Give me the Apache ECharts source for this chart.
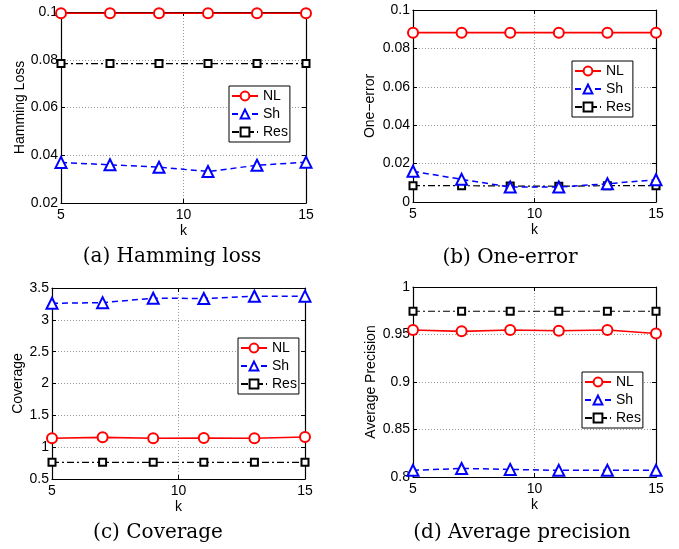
<!DOCTYPE html>
<html>
<head>
<meta charset="utf-8">
<script src="https://cdn.jsdelivr.net/npm/echarts@6/dist/echarts.min.js"></script>
<style>
  html, body { margin: 0; padding: 0; background: #fff; }
  #main { width: 679px; height: 549px; }
</style>
</head>
<body>
<div id="main"></div>
<script>
// k values on the x axis
const kValues = [5, 7, 9, 11, 13, 15];
const seriesNames = ['NL', 'Sh', 'Res'];

// (a) Hamming loss
const hammingNL = [0.0995, 0.0995, 0.0995, 0.0995, 0.0995, 0.0995];
const hammingSh = [0.037, 0.036, 0.035, 0.0332, 0.0358, 0.0371];
const hammingRes = [0.0784, 0.0784, 0.0784, 0.0784, 0.0784, 0.0784];

// (b) One-error
const oneErrNL = [0.0882, 0.0882, 0.0882, 0.0882, 0.0882, 0.0882];
const oneErrSh = [0.016, 0.0118, 0.0078, 0.0078, 0.0095, 0.0116];
const oneErrRes = [0.0085, 0.0085, 0.0083, 0.0082, 0.0085, 0.0085];

// (c) Coverage
const coverageNL = [1.14, 1.154, 1.14, 1.144, 1.14, 1.16];
const coverageSh = [3.26, 3.27, 3.34, 3.335, 3.37, 3.372];
const coverageRes = [0.762, 0.762, 0.762, 0.762, 0.762, 0.762];

// (d) Average precision
const avgPrecNL = [0.9547, 0.9533, 0.9547, 0.954, 0.9547, 0.951];
const avgPrecSh = [0.807, 0.809, 0.808, 0.807, 0.807, 0.807];
const avgPrecRes = [0.9745, 0.9745, 0.9745, 0.9745, 0.9745, 0.9745];

const FONT = 'Liberation Sans';

const panels = [
  { grid: { left: 61, top: 12, width: 245, height: 191 }, yMin: 0.02, yMax: 0.1, yStep: 0.02,
    yName: 'Hamming Loss', nameGap: 34, data: [hammingNL, hammingSh, hammingRes],
    legend: { left: 229, top: 86 }, caption: '(a) Hamming loss', cap: [172, 257] },
  { grid: { left: 413, top: 10, width: 243, height: 192 }, yMin: 0, yMax: 0.1, yStep: 0.02,
    yName: 'One\u2212error', nameGap: 36, data: [oneErrNL, oneErrSh, oneErrRes],
    legend: { left: 572, top: 61 }, caption: '(b) One-error', cap: [510, 258] },
  { grid: { left: 52, top: 288, width: 253, height: 191 }, yMin: 0.5, yMax: 3.5, yStep: 0.5,
    yName: 'Coverage', nameGap: 26, data: [coverageNL, coverageSh, coverageRes],
    legend: { left: 238, top: 338 }, caption: '(c) Coverage', cap: [158, 533] },
  { grid: { left: 413, top: 287, width: 243, height: 190 }, yMin: 0.8, yMax: 1, yStep: 0.05,
    yName: 'Average Precision', nameGap: 35, data: [avgPrecNL, avgPrecSh, avgPrecRes],
    legend: { left: 582, top: 372 }, caption: '(d) Average precision', cap: [522, 533] }
];

const styles = [
  { symbol: 'emptyCircle', symbolSize: 10, color: '#ff0000', type: 'solid', width: 1.6 },
  { symbol: 'emptyTriangle', symbolSize: 11, color: '#0000ff', type: [6, 4], width: 1.5 },
  { symbol: 'emptyRect', symbolSize: 7, color: '#000000', type: [7, 3, 2, 3], width: 1.2 }
];

const axisLine = { show: true, onZero: false, lineStyle: { color: '#000', width: 1.2 } };
const tick = { show: true, inside: true, length: 4, lineStyle: { color: '#000' } };
const gridLine = { show: true, lineStyle: { color: '#999', type: [1, 2], width: 1 } };

const grids = [], xAxes = [], yAxes = [], series = [], legends = [], graphics = [];

panels.forEach((p, i) => {
  grids.push(Object.assign({ containLabel: false }, p.grid));
  xAxes.push({
    type: 'value', gridIndex: i, min: 5, max: 15, interval: 5,
    name: 'k', nameLocation: 'middle', nameGap: 21,
    nameTextStyle: { fontFamily: FONT, fontSize: 14, color: '#000' },
    axisLine, axisTick: tick,
    axisLabel: { margin: 5, fontFamily: FONT, fontSize: 14, color: '#000' },
    splitLine: gridLine
  });
  yAxes.push({
    type: 'value', gridIndex: i, min: p.yMin, max: p.yMax, interval: p.yStep,
    name: p.yName, nameLocation: 'middle', nameGap: p.nameGap,
    nameTextStyle: { fontFamily: FONT, fontSize: 14, color: '#000' },
    axisLine, axisTick: tick,
    axisLabel: { margin: 3, fontFamily: FONT, fontSize: 14, color: '#000' },
    splitLine: gridLine
  });
  p.data.forEach((vals, j) => {
    const s = styles[j];
    series.push({
      name: seriesNames[j], type: 'line', xAxisIndex: i, yAxisIndex: i,
      data: kValues.map((k, n) => [k, vals[n]]),
      symbol: s.symbol, symbolSize: s.symbolSize, showAllSymbol: true,
      itemStyle: { color: s.color, borderWidth: 1.5 },
      lineStyle: { color: s.color, type: s.type, width: s.width },
      z: 3 - j, animation: false
    });
  });
  legends.push({
    left: p.legend.left, top: p.legend.top, orient: 'vertical',
    data: seriesNames, itemWidth: 26, itemHeight: 11, itemGap: 4,
    padding: [3, 2, 3, 2], borderColor: '#000', borderWidth: 1, backgroundColor: '#fff',
    textStyle: { fontFamily: FONT, fontSize: 14, color: '#000' },
    selectedMode: false
  });
  graphics.push({
    type: 'text', x: p.cap[0], y: p.cap[1],
    style: { text: p.caption, font: '20px "DejaVu Serif"', fill: '#000', textAlign: 'center', textVerticalAlign: 'middle' }
  });
});

// mirrored top / right axes for the box and inner ticks
panels.forEach((p, i) => {
  xAxes.push({
    type: 'value', gridIndex: i, position: 'top', min: 5, max: 15, interval: 5,
    axisLine, axisTick: tick, axisLabel: { show: false }, splitLine: { show: false }
  });
  yAxes.push({
    type: 'value', gridIndex: i, position: 'right', min: p.yMin, max: p.yMax, interval: p.yStep,
    axisLine, axisTick: tick, axisLabel: { show: false }, splitLine: { show: false }
  });
});

const chart = echarts.init(document.getElementById('main'));
chart.setOption({
  backgroundColor: '#fff',
  animation: false,
  grid: grids,
  xAxis: xAxes,
  yAxis: yAxes,
  legend: legends,
  series: series,
  graphic: graphics
});
</script>
</body>
</html>
